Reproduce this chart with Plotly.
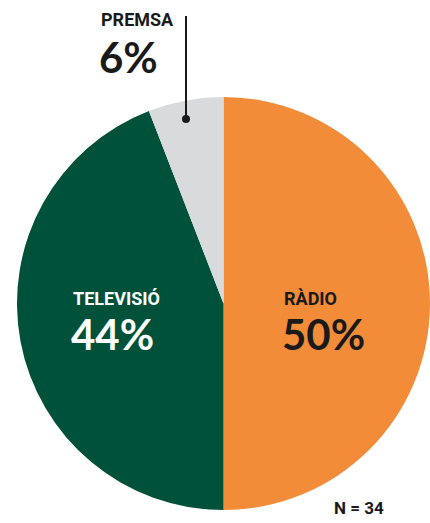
import plotly.graph_objects as go

categories = ["RÀDIO", "TELEVISIÓ", "PREMSA"]
counts = [17, 15, 2]
colors = ["#F28C38", "#00513A", "#D9DADC"]
n_total = sum(counts)
pcts = [round(c / n_total * 100) for c in counts]

W, H = 430, 523

def px(x):
    return x / W

def py(y):
    return 1 - y / H

fig = go.Figure(go.Pie(
    labels=categories,
    values=counts,
    marker=dict(colors=colors, line=dict(width=0)),
    sort=False,
    direction="clockwise",
    rotation=0,
    textinfo="none",
    hoverinfo="none",
    showlegend=False,
    domain=dict(x=[px(17), px(430)], y=[py(510), py(97)]),
))

head_font = "Roboto"
pct_font = "Lato"

# label positions (pixel), left-aligned
pos = {
    "RÀDIO": (283, 298, 334, "#1a1a1a"),
    "TELEVISIÓ": (72, 298, 334, "white"),
    "PREMSA": (100, 19, 57, "#1a1a1a"),
}
ann = []
for cat, p in zip(categories, pcts):
    x, yh, yp, col = pos[cat]
    ann.append(dict(x=px(x - 1), y=py(yh), xref="paper", yref="paper", xanchor="left", yanchor="middle",
                    text=f"<b>{cat}</b>", showarrow=False,
                    font=dict(family=head_font, size=18, color=col)))
    ann.append(dict(x=px(x - 3), y=py(yp), xref="paper", yref="paper", xanchor="left", yanchor="middle",
                    text=f"<b>{p}%</b>", showarrow=False,
                    font=dict(family=pct_font, size=42, color=col)))
ann.append(dict(x=px(359), y=py(508), xref="paper", yref="paper", xanchor="center", yanchor="middle",
                text=f"<b>N = {n_total}</b>", showarrow=False,
                font=dict(family=head_font, size=17, color="#1a1a1a")))

shapes = [
    dict(type="line", xref="paper", yref="paper", x0=px(186), x1=px(186), y0=py(16), y1=py(119),
         line=dict(color="#1a1a1a", width=2)),
    dict(type="circle", xref="paper", yref="paper", x0=px(182), x1=px(190), y0=py(115), y1=py(123),
         fillcolor="#1a1a1a", line=dict(width=0)),
]

fig.update_layout(
    width=W, height=H,
    margin=dict(l=0, r=0, t=0, b=0),
    paper_bgcolor="white", plot_bgcolor="white",
    annotations=ann, shapes=shapes,
)

fig.write_html("out.html", config={"displayModeBar": False},
               post_script="document.body.style.margin='0';document.body.style.overflow='hidden';")
